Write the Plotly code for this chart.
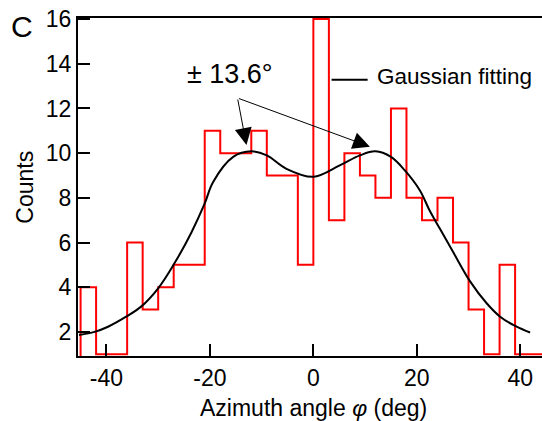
import plotly.graph_objects as go

# Histogram of azimuth angles: 3-degree bins from -45 to 45
bin_edges = [-45, -42, -39, -36, -33, -30, -27, -24, -21, -18, -15, -12, -9, -6, -3,
             0, 3, 6, 9, 12, 15, 18, 21, 24, 27, 30, 33, 36, 39, 42, 45]
counts = [4, 1, 1, 6, 3, 4, 5, 5, 11, 10, 10, 11, 9, 9, 5,
          16, 7, 10, 9, 8, 12, 8, 7, 8, 6, 3, 1, 5, 1, 1]

# Gaussian fitting curve, sampled
fit_x = [-45.3, -42.3, -39.7, -36.2, -33.3, -30.0, -26.8, -23.6, -21.0, -19.4, -15.5,
         -12.0, -9.0, -5.2, 0.0, 5.1, 9.0, 12.0, 15.0, 17.6, 20.6, 22.5, 24.5, 27.1,
         30.3, 33.5, 36.1, 39.3, 41.9]
fit_y = [1.86, 2.0, 2.23, 2.68, 3.13, 3.95, 5.09, 6.44, 7.75, 8.7, 9.83,
         10.08, 9.9, 9.3, 8.94, 9.45, 9.9, 10.08, 9.83, 9.25, 8.33, 7.42, 6.6, 5.54,
         4.26, 3.28, 2.68, 2.23, 1.97]

peak_offset = 13.6
x_tick_vals = [-40, -20, 0, 20, 40]
x_tick_labels = ["-40", "-20", "0", "20", "40"]
y_tick_vals = [2, 4, 6, 8, 10, 12, 14, 16]

FONT = "Arial, 'Liberation Sans', sans-serif"

# step outline of the histogram
step_x = [bin_edges[0]] + bin_edges[:-1] + [bin_edges[-1], bin_edges[-1]]
step_y = [0] + counts + [counts[-1], 0]

fig = go.Figure()
fig.add_trace(go.Scatter(
    x=step_x, y=step_y, mode="lines", line_shape="hv",
    line=dict(color="#ff0000", width=2), showlegend=False, hoverinfo="skip"))
fig.add_trace(go.Scatter(
    x=fit_x, y=fit_y, mode="lines", line_shape="spline",
    line=dict(color="black", width=2), showlegend=False))

# peak markers: arrows from the label to both maxima of the fit
tail = (-14.67, 12.47)
for tip_x, tip_y in [(-12.93, 10.36), (10.93, 10.29)]:
    fig.add_annotation(x=tip_x, y=tip_y, ax=tail[0], ay=tail[1],
                       xref="x", yref="y", axref="x", ayref="y",
                       showarrow=True, arrowhead=2, arrowsize=3.4, arrowwidth=1,
                       arrowcolor="black", text="")

fig.add_annotation(x=-16.2, y=13.56, xref="x", yref="y", showarrow=False,
                   text=f"\u00b1 {peak_offset}\u00b0",
                   font=dict(family=FONT, size=27, color="black"))

# fit label with its line sample
fig.add_shape(type="line", x0=3.52, x1=10.49, y0=13.29, y1=13.29,
              xref="x", yref="y", line=dict(color="black", width=2))
fig.add_annotation(x=11.9, y=13.43, xref="x", yref="y", xanchor="left",
                   showarrow=False, text="Gaussian fitting",
                   font=dict(family=FONT, size=22.5, color="black"))

# panel letter
fig.add_annotation(x=-0.12, y=0.974, xref="paper", yref="paper",
                   xanchor="center", yanchor="middle", showarrow=False, text="C",
                   font=dict(family=FONT, size=30, color="black"))

# axis titles
fig.add_annotation(x=0, y=-0.155, xref="x", yref="paper", showarrow=False,
                   xanchor="center", yanchor="middle",
                   text="Azimuth angle <i>\u03c6</i> (deg)",
                   font=dict(family=FONT, size=23, color="black"))
fig.add_annotation(x=-0.116, y=0.4985, xref="paper", yref="paper", showarrow=False,
                   xanchor="center", yanchor="middle", textangle=-90, text="Counts",
                   font=dict(family=FONT, size=23, color="black"))

fig.update_layout(
    width=542, height=421,
    margin=dict(l=78, r=0, t=18, b=65),
    paper_bgcolor="white", plot_bgcolor="white",
    font=dict(family=FONT, size=23, color="black"),
    xaxis=dict(range=[-45.5, 44.2], tickvals=x_tick_vals, ticktext=x_tick_labels,
               ticks="inside", ticklen=12, tickwidth=2, tickcolor="black",
               showline=True, linewidth=2, linecolor="black", mirror=True,
               showgrid=False, zeroline=False,
               tickfont=dict(family=FONT, size=23, color="black")),
    yaxis=dict(range=[0.92, 16.05], tickvals=y_tick_vals,
               ticks="inside", ticklen=12, tickwidth=2, tickcolor="black",
               showline=True, linewidth=2, linecolor="black",
               showgrid=False, zeroline=False,
               tickfont=dict(family=FONT, size=23, color="black")),
)

fig.write_html("out.html")
